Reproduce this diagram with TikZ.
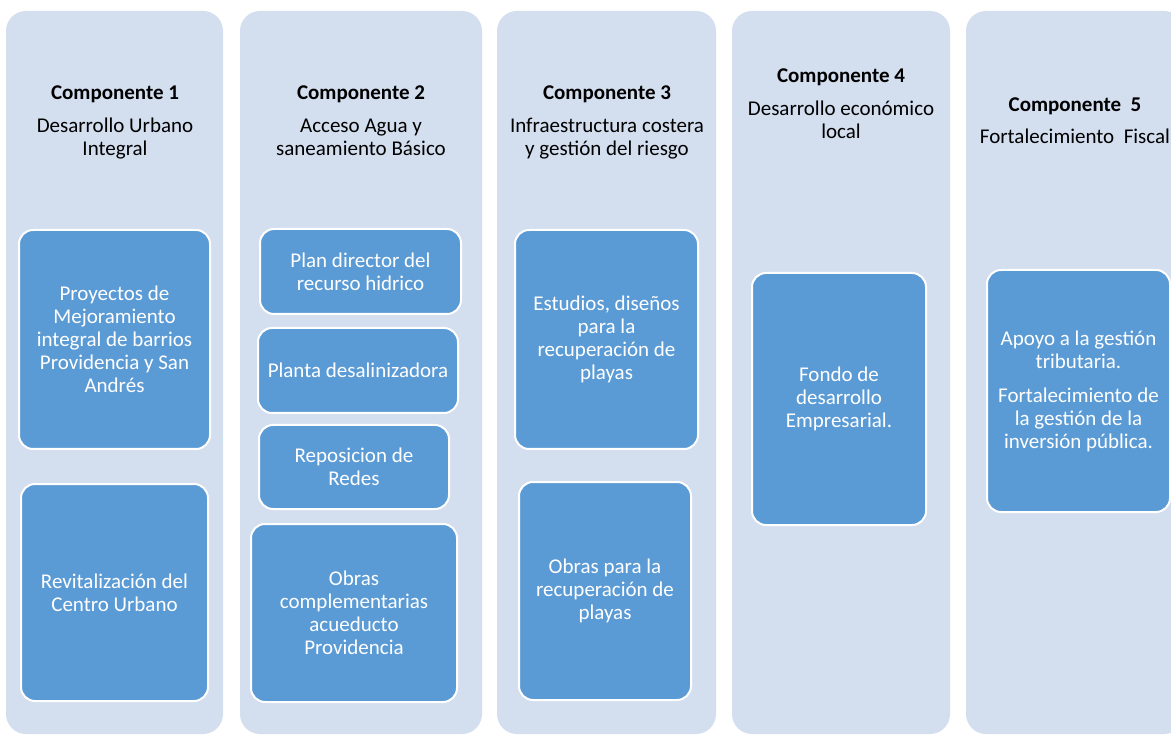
\documentclass[tikz,border=0pt]{standalone}
\usepackage{fontspec}
\setmainfont{Carlito}
\definecolor{colbg}{HTML}{D3DEEF}
\definecolor{itembg}{HTML}{5B9BD5}
\begin{document}
\begin{tikzpicture}[x=1pt,y=-1pt,
  col/.style={fill=colbg, rounded corners=20pt, inner sep=0pt, draw=none},
  item/.style={draw=white, line width=2pt, fill=itembg, rounded corners=14pt, text=white,
    align=center, inner sep=0pt, font=\fontsize{21}{23}\selectfont},
  head/.style={align=center, anchor=base, inner sep=0pt, text=black, font=\fontsize{21}{23}\selectfont}]
\clip (0,0) rectangle (1171,735);
\fill[white] (0,0) rectangle (1171,735);
% columns
\node[col, minimum width=217pt, minimum height=723pt] (c1) at (114.5,372.5) {};
\node[col, minimum width=242pt, minimum height=723pt] (c2) at (361,372.5) {};
\node[col, minimum width=219pt, minimum height=723pt] (c3) at (606.5,372.5) {};
\node[col, minimum width=218pt, minimum height=723pt] (c4) at (841,372.5) {};
\node[col, minimum width=218pt, minimum height=723pt] (c5) at (1075,372.5) {};
% headers (base anchor = baseline of last line)
\node[head] (h1) at (115,155.5) {\textbf{Componente 1}\\[9.5pt]Desarrollo Urbano\\Integral};
\node[head] (h2) at (361,155.5) {\textbf{Componente 2}\\[9.5pt]Acceso Agua y\\saneamiento Básico};
\node[head] (h3) at (607,155.5) {\textbf{Componente 3}\\[9.5pt]Infraestructura costera\\y gestión del riesgo};
\node[head] (h4) at (841,138.5) {\textbf{Componente 4}\\[9.5pt]Desarrollo económico\\local};
\node[head] (h5) at (1075,144) {\textbf{Componente\ \ 5}\\[9pt]Fortalecimiento\ \ Fiscal};
% column 1
\node[item, minimum width=191pt, minimum height=219pt] (a1) at (114.5,339.5)
  {Proyectos de\\Mejoramiento\\integral de barrios\\Providencia y San\\Andrés};
\node[item, minimum width=187pt, minimum height=217pt] (a2) at (114.5,592.5)
  {Revitalización del\\Centro Urbano};
% column 2
\node[item, minimum width=201pt, minimum height=85pt] (b1) at (360.5,271.5)
  {Plan director del\\recurso hidrico};
\node[item, minimum width=200pt, minimum height=85pt] (b2) at (358,370.5)
  {Planta desalinizadora};
\node[item, minimum width=190pt, minimum height=84pt] (b3) at (354,467)
  {Reposicion de\\Redes};
\node[item, minimum width=206pt, minimum height=178pt] (b4) at (354,613)
  {Obras\\complementarias\\acueducto\\Providencia};
% column 3
\node[item, minimum width=183pt, minimum height=219pt] (d1) at (606.5,339.5)
  {Estudios, diseños\\para la\\recuperación de\\playas};
\node[item, minimum width=172pt, minimum height=218pt] (d2) at (605,591)
  {Obras para la\\recuperación de\\playas};
% column 4
\node[item, minimum width=174pt, minimum height=252pt] (e1) at (839,399)
  {Fondo de\\desarrollo\\Empresarial.};
% column 5
\node[item, minimum width=183pt, minimum height=242pt] (f1) at (1078.5,391)
  {Apoyo a la gestión\\tributaria.\\[11pt]Fortalecimiento de\\la gestión de la\\inversión pública.};
\end{tikzpicture}
\end{document}
